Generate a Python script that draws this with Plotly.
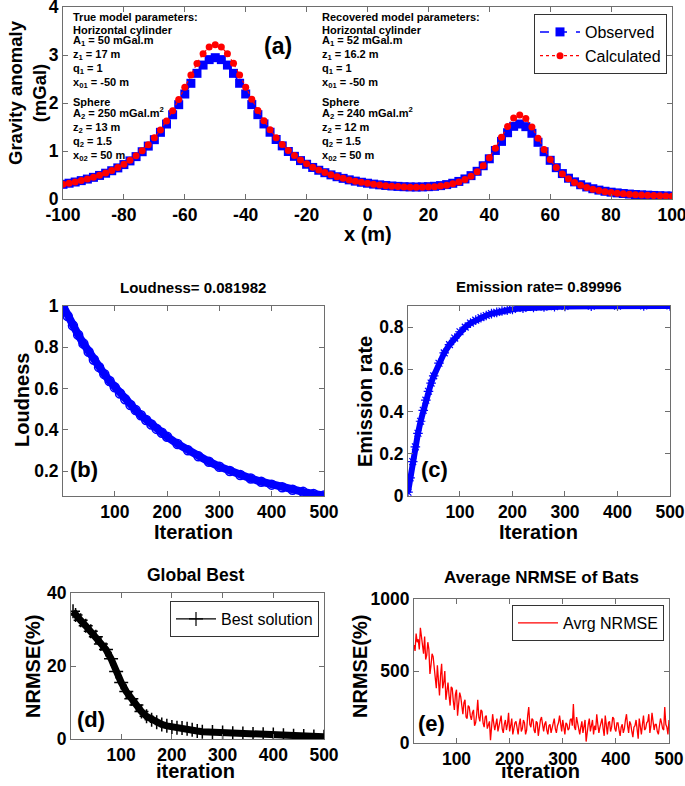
import plotly.graph_objects as go

# ---------------- data ----------------
# (a) gravity profile
x_pos = list(range(-100, 101, 2))
g_observed = [
    0.306, 0.329, 0.354, 0.383, 0.415, 0.451, 0.491, 0.537, 0.589, 0.648,
    0.717, 0.794, 0.883, 0.985, 1.102, 1.236, 1.389, 1.562, 1.755, 1.965,
    2.187, 2.410, 2.618, 2.790, 2.904, 2.944, 2.904, 2.790, 2.618, 2.411,
    2.188, 1.967, 1.757, 1.564, 1.391, 1.240, 1.107, 0.990, 0.889, 0.800,
    0.724, 0.657, 0.599, 0.548, 0.503, 0.464, 0.430, 0.399, 0.372, 0.349,
    0.329, 0.310, 0.295, 0.282, 0.271, 0.263, 0.256, 0.252, 0.250, 0.252,
    0.257, 0.265, 0.279, 0.300, 0.328, 0.366, 0.418, 0.487, 0.577, 0.693,
    0.838, 1.011, 1.200, 1.381, 1.514, 1.562, 1.507, 1.369, 1.181, 0.985,
    0.806, 0.653, 0.530, 0.433, 0.357, 0.297, 0.251, 0.214, 0.185, 0.161,
    0.142, 0.127, 0.114, 0.103, 0.094, 0.087, 0.080, 0.074, 0.069, 0.064,
    0.061]
g_calculated = [
    0.306, 0.329, 0.355, 0.384, 0.417, 0.453, 0.495, 0.542, 0.595, 0.656,
    0.726, 0.806, 0.900, 1.007, 1.131, 1.274, 1.438, 1.627, 1.840, 2.075,
    2.326, 2.583, 2.825, 3.028, 3.165, 3.213, 3.165, 3.028, 2.826, 2.584,
    2.328, 2.077, 1.842, 1.630, 1.441, 1.277, 1.135, 1.011, 0.905, 0.812,
    0.733, 0.664, 0.604, 0.551, 0.505, 0.465, 0.430, 0.398, 0.371, 0.347,
    0.326, 0.308, 0.292, 0.278, 0.267, 0.258, 0.251, 0.246, 0.243, 0.244,
    0.248, 0.257, 0.270, 0.289, 0.316, 0.353, 0.405, 0.475, 0.569, 0.694,
    0.857, 1.057, 1.286, 1.512, 1.685, 1.749, 1.679, 1.499, 1.266, 1.031,
    0.824, 0.655, 0.523, 0.421, 0.343, 0.284, 0.239, 0.203, 0.175, 0.153,
    0.134, 0.120, 0.108, 0.098, 0.089, 0.082, 0.076, 0.071, 0.066, 0.062,
    0.058]
x_ticks = [-100, -80, -60, -40, -20, 0, 20, 40, 60, 80, 100]
g_ticks = [0, 1, 2, 3, 4]

# (b) loudness
loud_iter = [1, 10, 20, 30, 40, 50, 60, 70, 80, 90, 100, 110, 120, 130, 140, 150,
             160, 170, 180, 190, 200, 220, 240, 260, 280, 300, 320, 340, 360, 380,
             400, 420, 440, 460, 480, 500]
loudness = [1.000, 0.951, 0.905, 0.860, 0.818, 0.778, 0.740, 0.704, 0.670, 0.637,
            0.606, 0.576, 0.548, 0.521, 0.496, 0.471, 0.448, 0.426, 0.405, 0.386,
            0.367, 0.332, 0.301, 0.272, 0.246, 0.222, 0.201, 0.182, 0.165, 0.149,
            0.135, 0.122, 0.110, 0.100, 0.090, 0.082]
loud_ticks = [0.2, 0.4, 0.6, 0.8, 1]

# (c) emission rate
emis_iter = [1, 5, 10, 15, 20, 25, 30, 35, 40, 45, 50, 60, 70, 80, 90, 100, 110, 120,
             130, 140, 150, 160, 170, 180, 190, 200, 220, 240, 260, 280, 300, 350,
             400, 450, 500]
emission = [0.018, 0.086, 0.163, 0.233, 0.297, 0.354, 0.406, 0.454, 0.496, 0.535,
            0.569, 0.629, 0.678, 0.717, 0.748, 0.778, 0.800, 0.819, 0.833, 0.845,
            0.855, 0.864, 0.870, 0.876, 0.880, 0.884, 0.889, 0.893, 0.895, 0.897,
            0.898, 0.899, 0.8997, 0.8999, 0.9000]
emis_ticks = [0, 0.2, 0.4, 0.6, 0.8]
iter_ticks = [100, 200, 300, 400, 500]

# (d) global best
best_iter = [5, 10, 20, 30, 40, 50, 60, 70, 80, 90, 100, 110, 120, 130, 140, 150, 160,
             170, 180, 190, 200, 210, 220, 230, 240, 250, 260, 280, 300, 320, 340,
             360, 380, 400, 420, 440, 460, 480, 500]
best_nrmse = [35.0, 34.0, 32.5, 31.0, 29.5, 28.0, 26.0, 24.5, 22.0, 18.5, 15.5, 13.0,
              11.0, 9.3, 7.5, 6.2, 5.3, 4.6, 4.0, 3.6, 3.3, 3.1, 3.0, 2.8, 2.5, 2.2,
              2.0, 1.9, 1.8, 1.6, 1.5, 1.4, 1.3, 1.2, 1.0, 0.9, 0.8, 0.7, 0.6]
best_ticks = [0, 20, 40]

# (e) average NRMSE of bats (every 2nd iteration, 20..500)
avg_iter = list(range(20, 501, 2))
avg_nrmse = [
    680, 640, 760, 700, 720, 650, 800, 730, 690, 620, 740, 580, 610, 700, 650, 480,
    540, 620, 600, 520, 470, 380, 540, 460, 330, 470, 550, 380, 420, 500, 300, 360,
    420, 330, 260, 390, 380, 290, 230, 340, 370, 190, 250, 350, 320, 240, 200, 280,
    300, 180, 170, 260, 250, 190, 160, 210, 230, 120, 140, 200, 300, 180, 150, 230,
    220, 140, 110, 180, 190, 100, 120, 150, 20, 120, 200, 140, 90, 130, 170, 80,
    110, 150, 190, 100, 70, 130, 160, 90, 130, 210, 80, 120, 170, 60, 110, 140,
    150, 100, 60, 130, 170, 80, 100, 160, 140, 60, 90, 190, 250, 130, 110, 170,
    160, 90, 70, 150, 140, 50, 120, 160, 180, 110, 80, 130, 150, 90, 60, 120,
    130, 70, 100, 150, 170, 100, 70, 120, 140, 190, 110, 80, 160, 110, 60, 140,
    130, 90, 100, 160, 170, 120, 270, 110, 90, 180, 140, 100, 60, 110, 150, 70,
    110, 160, 10, 90, 130, 170, 80, 120, 160, 60, 120, 90, 200, 130, 70, 110,
    140, 170, 100, 50, 190, 120, 60, 140, 150, 80, 110, 180, 170, 100, 80, 140,
    140, 90, 50, 110, 130, 70, 100, 160, 200, 120, 70, 150, 130, 80, 40, 110,
    120, 160, 90, 30, 170, 110, 60, 130, 190, 90, 100, 140, 150, 200, 70, 120,
    210, 150, 90, 130, 130, 80, 60, 120, 170, 140, 100, 90, 250, 130, 110, 60,
    160]
avg_ticks = [0, 500, 1000]

# ---------------- figure ----------------
W, H = 685, 786
FONT = "Arial, Liberation Sans, sans-serif"

def px_x(p):
    return p / W

def px_y(p):
    return 1 - p / H

fig = go.Figure()

fig.add_trace(go.Scatter(
    x=x_pos, y=g_observed, name="Observed", mode="lines+markers",
    line=dict(color="#0000FF", width=1.5, dash="dash"),
    marker=dict(symbol="square", size=9, color="#0000FF"),
    xaxis="x", yaxis="y", legend="legend"))
fig.add_trace(go.Scatter(
    x=x_pos, y=g_calculated, name="Calculated", mode="lines+markers",
    line=dict(color="#FF0000", width=1.2, dash="dot"),
    marker=dict(symbol="circle", size=7, color="#FF0000"),
    xaxis="x", yaxis="y", legend="legend"))

fig.add_trace(go.Scatter(
    x=loud_iter, y=loudness, mode="lines+markers", showlegend=False,
    line=dict(color="#0000FF", width=8),
    marker=dict(symbol="circle-open", size=9, color="#0000FF", line=dict(width=1.5)),
    xaxis="x2", yaxis="y2"))

fig.add_trace(go.Scatter(
    x=emis_iter, y=emission, mode="lines+markers", showlegend=False,
    line=dict(color="#0000FF", width=6),
    marker=dict(symbol="asterisk-open", size=8, color="#0000FF",
                line=dict(width=1.2, color="#0000FF")),
    xaxis="x3", yaxis="y3"))

fig.add_trace(go.Scatter(
    x=best_iter, y=best_nrmse, name="Best solution", mode="lines+markers",
    showlegend=False,
    line=dict(color="black", width=7),
    marker=dict(symbol="cross-thin-open", size=10, color="black",
                line=dict(width=1.5, color="black")),
    xaxis="x4", yaxis="y4"))
# legend-only entry (thin line with + marker, as in the reference legend)
fig.add_trace(go.Scatter(
    x=[None], y=[None], name="Best solution", mode="lines+markers",
    line=dict(color="black", width=1.2),
    marker=dict(symbol="cross-thin-open", size=10, color="black",
                line=dict(width=1.2, color="black")),
    xaxis="x4", yaxis="y4", legend="legend2"))

fig.add_trace(go.Scatter(
    x=avg_iter, y=avg_nrmse, name="Avrg NRMSE", mode="lines",
    line=dict(color="#FF0000", width=1.3),
    xaxis="x5", yaxis="y5", legend="legend3"))

AX = dict(showline=True, linecolor="#6e6e6e", linewidth=1, mirror="ticks",
          ticks="inside", ticklen=5, tickcolor="#6e6e6e", showgrid=False,
          zeroline=False, automargin=False, ticklabeloverflow="allow",
          tickfont=dict(family=FONT, size=17.5, color="black", weight="bold"))

def axis(domain, rng, tickvals, anchor):
    d = dict(AX)
    d.update(domain=domain, range=rng, tickmode="array", tickvals=tickvals,
             ticktext=[str(v) for v in tickvals], anchor=anchor)
    return d

LEG = dict(xanchor="right", yanchor="top", bgcolor="white", bordercolor="#333",
           borderwidth=1, font=dict(family=FONT, size=16, color="black"),
           itemwidth=40, tracegroupgap=0)

fig.update_layout(
    width=W, height=H, margin=dict(l=0, r=0, t=0, b=0),
    paper_bgcolor="white", plot_bgcolor="white",
    font=dict(family=FONT, color="black"),
    xaxis=axis([px_x(63), px_x(672)], [-100, 100], x_ticks, "y"),
    yaxis=axis([px_y(199), px_y(7)], [0, 4], g_ticks, "x"),
    xaxis2=axis([px_x(63), px_x(324)], [1, 500], iter_ticks, "y2"),
    yaxis2=axis([px_y(496), px_y(306)], [0.08, 1.0], loud_ticks, "x2"),
    xaxis3=axis([px_x(408), px_x(670)], [1, 500], iter_ticks, "y3"),
    yaxis3=axis([px_y(496), px_y(306)], [0, 0.9], emis_ticks, "x3"),
    xaxis4=axis([px_x(71), px_x(324)], [1, 500], iter_ticks, "y4"),
    yaxis4=axis([px_y(739), px_y(593)], [0, 40], best_ticks, "x4"),
    xaxis5=axis([px_x(414), px_x(669)], [20, 500], iter_ticks, "y5"),
    yaxis5=axis([px_y(743), px_y(599)], [0, 1000], avg_ticks, "x5"),
    legend=dict(LEG, x=px_x(667), y=px_y(14)),
    legend2=dict(LEG, x=px_x(319), y=px_y(601)),
    legend3=dict(LEG, x=px_x(664), y=px_y(605)),
)

annotations = []

def ann(text, x, y, size, bold=True, xanchor="center", yanchor="middle", angle=0):
    annotations.append(dict(
        text=text, x=px_x(x), y=px_y(y), xref="paper", yref="paper",
        xanchor=xanchor, yanchor=yanchor, showarrow=False, textangle=angle,
        font=dict(family=FONT, size=size, color="black",
                  weight="bold" if bold else "normal")))

true_lines = ["True model parameters:", "Horizontal cylinder",
              "A<sub>1</sub> = 50 mGal.m", "z<sub>1</sub> = 17 m", "q<sub>1</sub> = 1",
              "x<sub>01</sub> = -50 m", "Sphere", "A<sub>2</sub> = 250 mGal.m<sup>2</sup>",
              "z<sub>2</sub> = 13 m", "q<sub>2</sub> = 1.5", "x<sub>02</sub> = 50 m"]
rec_lines = ["Recovered model parameters:", "Horizontal cylinder",
             "A<sub>1</sub> = 52 mGal.m", "z<sub>1</sub> = 16.2 m", "q<sub>1</sub> = 1",
             "x<sub>01</sub> = -50 m", "Sphere", "A<sub>2</sub> = 240 mGal.m<sup>2</sup>",
             "z<sub>2</sub> = 12 m", "q<sub>2</sub> = 1.5", "x<sub>02</sub> = 50 m"]
line_y = [17, 30, 41, 55, 69, 83, 102, 113, 128, 142, 156]
for t, yy in zip(true_lines, line_y):
    ann(t, 71, yy, 11, xanchor="left")
for t, yy in zip(rec_lines, line_y):
    ann(t, 320, yy, 11, xanchor="left")

ann("(a)", 278, 46, 23)
ann("(b)", 84, 469, 22)
ann("(c)", 434, 470, 22)
ann("(d)", 91, 719, 22)
ann("(e)", 431, 723, 22)

# subplot titles
ann("Loudness= 0.081982", 193, 288, 15)
ann("Emission rate= 0.89996", 539, 287, 15)
ann("Global Best", 196, 575, 17.5)
ann("Average NRMSE of Bats", 541, 577, 17)

# axis titles
ann("x (m)", 368, 234, 20)
ann("Gravity anomaly<br>(mGal)", 27, 93, 18.5, angle=-90)
ann("Iteration", 193, 532, 20)
ann("Iteration", 538, 532, 20)
ann("Loudness", 22, 400, 20, angle=-90)
ann("Emission rate", 365, 402, 20, angle=-90)
ann("iteration", 195, 771, 20)
ann("iteration", 540, 771, 20)
ann("NRMSE(%)", 33, 667, 20, angle=-90)
ann("NRMSE(%)", 360, 667, 20, angle=-90)

fig.update_layout(annotations=annotations)

fig.write_html("out.html", config={"displayModeBar": False},
               post_script="document.body.style.margin='0';document.body.style.padding='0';")
